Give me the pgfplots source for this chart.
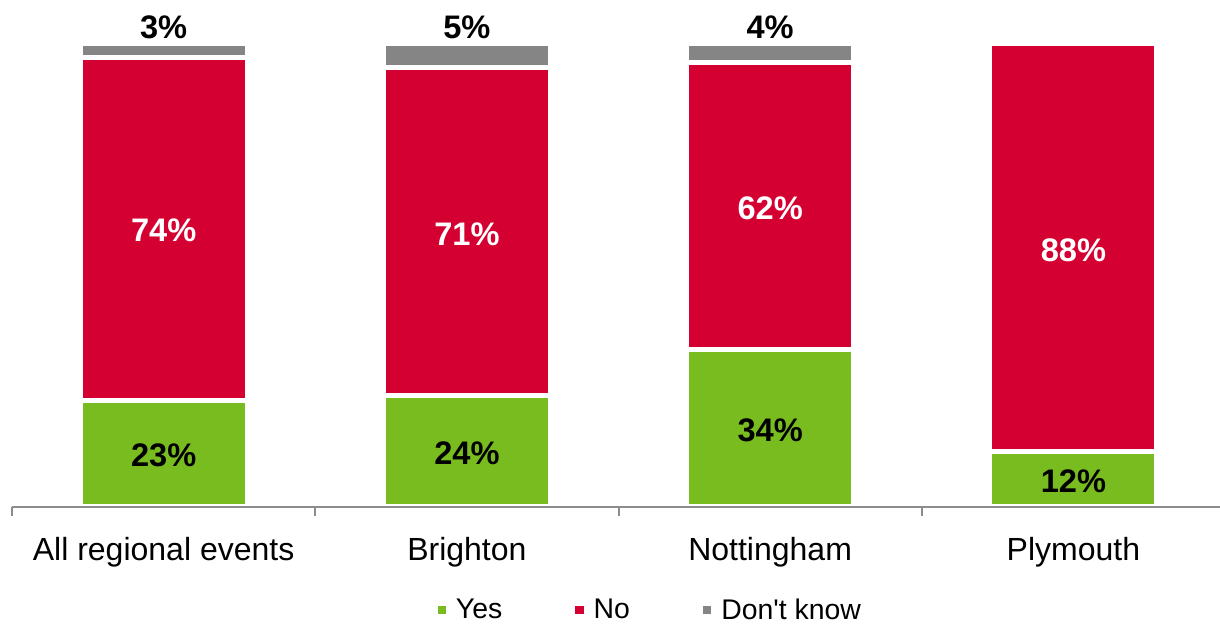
\documentclass[border=0pt]{standalone}
\usepackage{pgfplots}
\pgfplotsset{compat=1.18}
\usepackage{fontspec}
\setmainfont{Liberation Sans}
\definecolor{cyes}{HTML}{78BC20}
\definecolor{cno}{HTML}{D50032}
\definecolor{cdk}{HTML}{858585}
\definecolor{caxis}{HTML}{8C8C8C}
\begin{document}
\begin{tikzpicture}
\pgfplotsset{
  common/.style={
    scale only axis, width=606.5pt, height=231.5pt,
    xmin=-0.5, xmax=3.5, ymin=0, ymax=100,
    at={(0,0)}, anchor=south west, clip=false,
  },
  lbl/.style={only marks, mark=none, nodes near coords={\pgfplotspointmeta\%},
    point meta=explicit symbolic, nodes near coords align=center,
    every node near coord/.append style={font=\fontsize{16.3}{19}\selectfont\bfseries, anchor=center, inner sep=0pt}},
}
\begin{axis}[common,
  ybar stacked, bar width=83.5pt,
  axis on top,
  axis x line*=bottom, axis y line=none,
  x axis line style={caxis, line width=1pt},
  xtick={0,1,2,3},
  xticklabels={All regional events, Brighton, Nottingham, Plymouth},
  major tick length=0pt,
  minor xtick={-0.5,0.5,1.5,2.5,3.5},
  minor tick length=4.5pt, tick align=outside,
  minor tick style={caxis, line width=1pt},
  xticklabel style={font=\fontsize{16}{19}\selectfont, yshift=-11.5pt},
  legend columns=-1,
  legend style={draw=none, at={(0.527,-0.2234)}, anchor=center,
    font=\fontsize{14.2}{17}\selectfont,
    /tikz/every odd column/.append style={column sep=3pt},
    /tikz/every even column/.append style={column sep=34.5pt}},
  legend image code/.code={\fill[#1, draw=none] (0pt,-2pt) rectangle (4.2pt,2.2pt);},
  every axis plot/.append style={draw=white, line width=2.5pt},
]
\addplot[fill=cyes] coordinates {(0,23) (1,24) (2,34) (3,12)};
\addplot[fill=cno] coordinates {(0,74) (1,71) (2,62) (3,88)};
\addplot[fill=cdk] coordinates {(0,3) (1,5) (2,4)};
\legend{Yes, No, Don\textquotesingle t know}
\end{axis}
\begin{axis}[common, axis lines=none]
\addplot[lbl, every node near coord/.append style={text=black}] table[meta=l] {
x y l
0 11.1 23
1 11.6 24
2 16.6 34
3 5.6 12
};
\addplot[lbl, every node near coord/.append style={text=white}] table[meta=l] {
x y l
0 59.8 74
1 58.9 71
2 64.5 62
3 55.5 88
};
\addplot[lbl, every node near coord/.append style={text=black}] table[meta=l] {
x y l
0 103.6 3
1 103.6 5
2 103.6 4
};
\end{axis}
\pgfresetboundingbox
\path[use as bounding box] (-6pt,-58.5pt) rectangle (604pt,253.5pt);
\end{tikzpicture}
\end{document}
